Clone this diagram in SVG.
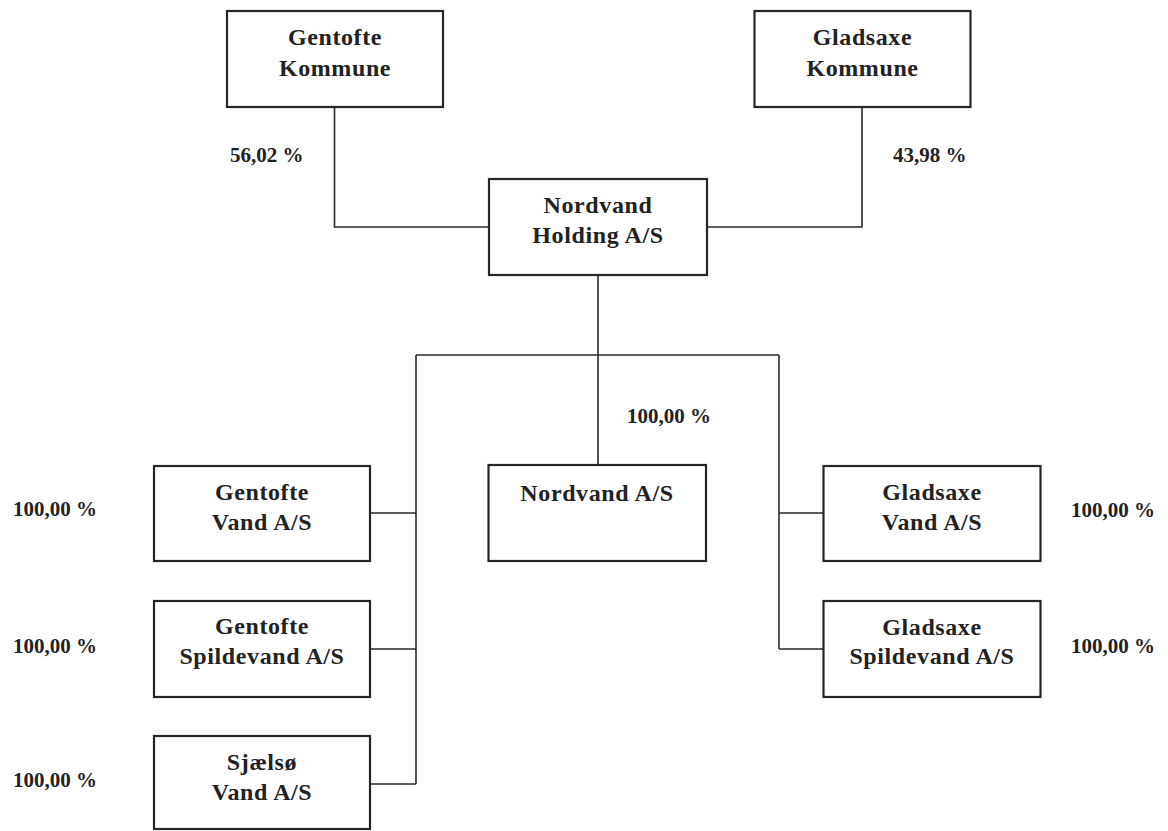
<svg xmlns="http://www.w3.org/2000/svg" width="1168" height="831" viewBox="0 0 1168 831">
<style>
.box{fill:#fff;stroke:#262626;stroke-width:2.2}
.ln{fill:none;stroke:#2a2a2a;stroke-width:1.6}
.t{font-family:"Liberation Serif","Times New Roman",serif;font-weight:bold;font-size:24px;letter-spacing:0.6px;fill:#222;text-anchor:middle}
.p{font-family:"Liberation Serif","Times New Roman",serif;font-weight:bold;font-size:21px;fill:#222}
</style>
<rect width="1168" height="831" fill="#fff"/>
<g id="connectors">
<path class="ln" d="M334.5 107 V227 H489"/>
<path class="ln" d="M862 107 V227 H707"/>
<path class="ln" d="M598 275 V465"/>
<path class="ln" d="M416 355 H779"/>
<path class="ln" d="M416 355 V784"/>
<path class="ln" d="M370 513 H416 M370 649 H416 M370 784 H416"/>
<path class="ln" d="M779 355 V649"/>
<path class="ln" d="M779 513 H823.5 M779 649 H823.5"/>
</g>
<g id="gentofte-kommune">
<rect class="box" x="227" y="11" width="216" height="96"/>
<text class="t" x="335" y="45">Gentofte</text>
<text class="t" x="335" y="76">Kommune</text>
</g>
<g id="gladsaxe-kommune">
<rect class="box" x="754.5" y="11" width="216" height="96"/>
<text class="t" x="862.5" y="45">Gladsaxe</text>
<text class="t" x="862.5" y="76">Kommune</text>
</g>
<g id="nordvand-holding">
<rect class="box" x="489" y="179" width="218" height="96"/>
<text class="t" x="598" y="213">Nordvand</text>
<text class="t" x="598" y="243">Holding A/S</text>
</g>
<g id="gentofte-vand">
<rect class="box" x="154" y="466" width="216" height="95"/>
<text class="t" x="262" y="499.5">Gentofte</text>
<text class="t" x="262" y="529.5">Vand A/S</text>
</g>
<g id="gentofte-spildevand">
<rect class="box" x="154" y="601" width="216" height="96"/>
<text class="t" x="262" y="634">Gentofte</text>
<text class="t" x="262" y="664">Spildevand A/S</text>
</g>
<g id="sjaelso-vand">
<rect class="box" x="154" y="736" width="216" height="93"/>
<text class="t" x="262" y="769.5">Sjælsø</text>
<text class="t" x="262" y="799.5">Vand A/S</text>
</g>
<g id="nordvand">
<rect class="box" x="488.5" y="465" width="217.5" height="96"/>
<text class="t" x="597" y="501">Nordvand A/S</text>
</g>
<g id="gladsaxe-vand">
<rect class="box" x="823.5" y="466" width="217" height="95"/>
<text class="t" x="932" y="500">Gladsaxe</text>
<text class="t" x="932" y="529.5">Vand A/S</text>
</g>
<g id="gladsaxe-spildevand">
<rect class="box" x="823.5" y="601" width="217" height="96"/>
<text class="t" x="932" y="634.5">Gladsaxe</text>
<text class="t" x="932" y="664">Spildevand A/S</text>
</g>
<g id="labels">
<text class="p" x="230" y="162">56,02 %</text>
<text class="p" x="893" y="162">43,98 %</text>
<text class="p" x="627" y="423">100,00 %</text>
<text class="p" x="13" y="516">100,00 %</text>
<text class="p" x="13" y="653">100,00 %</text>
<text class="p" x="13" y="787">100,00 %</text>
<text class="p" x="1071" y="517">100,00 %</text>
<text class="p" x="1071" y="653">100,00 %</text>
</g>
</svg>
